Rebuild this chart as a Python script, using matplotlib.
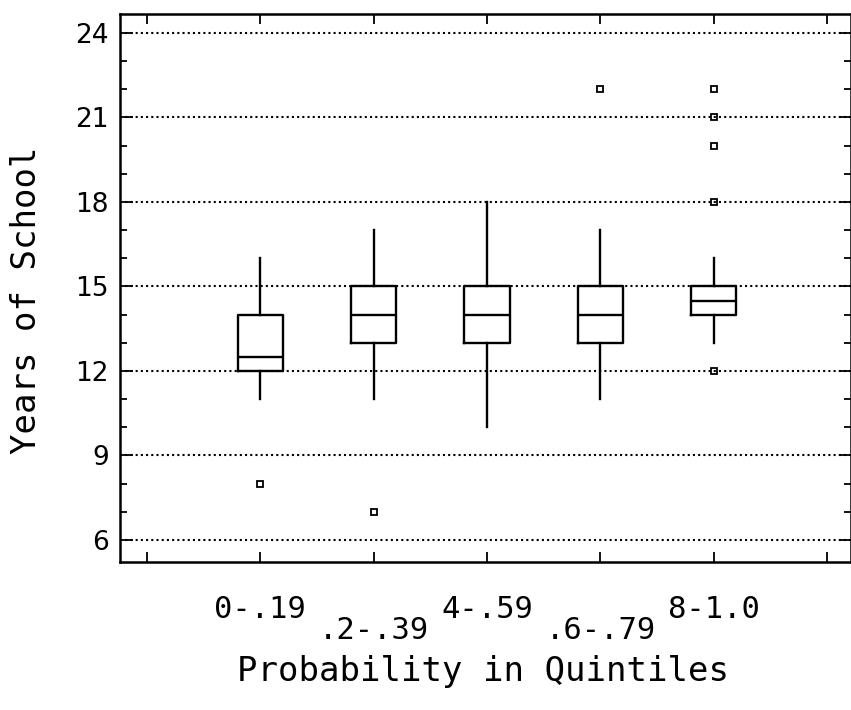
import matplotlib
matplotlib.use("Agg")
import matplotlib.pyplot as plt
from matplotlib.ticker import MultipleLocator

# quintile groups and box statistics
labels = ["0-.19", ".2-.39", "4-.59", ".6-.79", "8-1.0"]
whis_lo = [11, 11, 10, 11, 13]
q1 = [12, 13, 13, 13, 14]
med = [12.5, 14, 14, 14, 14.5]
q3 = [14, 15, 15, 15, 15]
whis_hi = [16, 17, 18, 17, 16]
fliers = [[8], [7], [], [22], [22, 21, 20, 18, 12]]

positions = [1, 2, 3, 4, 5]

stats = []
for i in range(len(labels)):
    stats.append({
        "whislo": whis_lo[i], "q1": q1[i], "med": med[i],
        "q3": q3[i], "whishi": whis_hi[i], "fliers": fliers[i],
    })

fig = plt.figure(figsize=(8.51, 7.10), dpi=100)
ax = fig.add_axes([120 / 851, 1 - 562 / 710, 1 - 120 / 851, (562 - 14) / 710])

lw = 1.7
ax.bxp(stats, positions=positions, widths=0.4, showcaps=False,
       boxprops=dict(color="black", linewidth=lw),
       whiskerprops=dict(color="black", linewidth=lw),
       medianprops=dict(color="black", linewidth=lw),
       flierprops=dict(marker="s", markersize=4.5, markerfacecolor="none",
                       markeredgecolor="black", markeredgewidth=1.3))

ax.set_xlim(-0.238, 6.21)
ax.set_ylim(5.22, 24.67)

# dotted horizontal grid at major y ticks
ax.yaxis.set_major_locator(MultipleLocator(3))
ax.yaxis.set_minor_locator(MultipleLocator(1))
ax.grid(axis="y", which="major", color="black", linestyle=(0, (1, 1.5)), linewidth=1.5)
ax.set_axisbelow(True)

ax.set_xticks(range(7))
ax.set_xticklabels([])
ax.tick_params(axis="x", which="major", direction="in", length=7, width=1.3,
               top=True, bottom=True)
ax.tick_params(axis="y", which="major", direction="in", length=9, width=1.3,
               left=True, right=True, labelsize=19, pad=8)
ax.tick_params(axis="y", which="minor", direction="in", length=5, width=1.3,
               left=True, right=True)
for t in ax.get_yticklabels():
    t.set_fontfamily("DejaVu Sans")

for s in ax.spines.values():
    s.set_linewidth(1.8)

# staggered category labels under the boxes
for i, lab in enumerate(labels):
    off = -34 if i % 2 == 0 else -49
    ax.annotate(lab, xy=(positions[i], 0), xycoords=("data", "axes fraction"),
                xytext=(0, off), textcoords="offset points",
                ha="center", va="center", fontsize=22, family="DejaVu Sans Mono")

fig.text(483 / 851, 1 - 672 / 710, "Probability in Quintiles", ha="center", va="center",
         fontsize=24.5, family="DejaVu Sans Mono")
fig.text(27 / 851, 1 - 300 / 710, "Years of School", ha="center", va="center",
         rotation=90, fontsize=24.5, family="DejaVu Sans Mono")

fig.savefig("out.png", dpi=100)
